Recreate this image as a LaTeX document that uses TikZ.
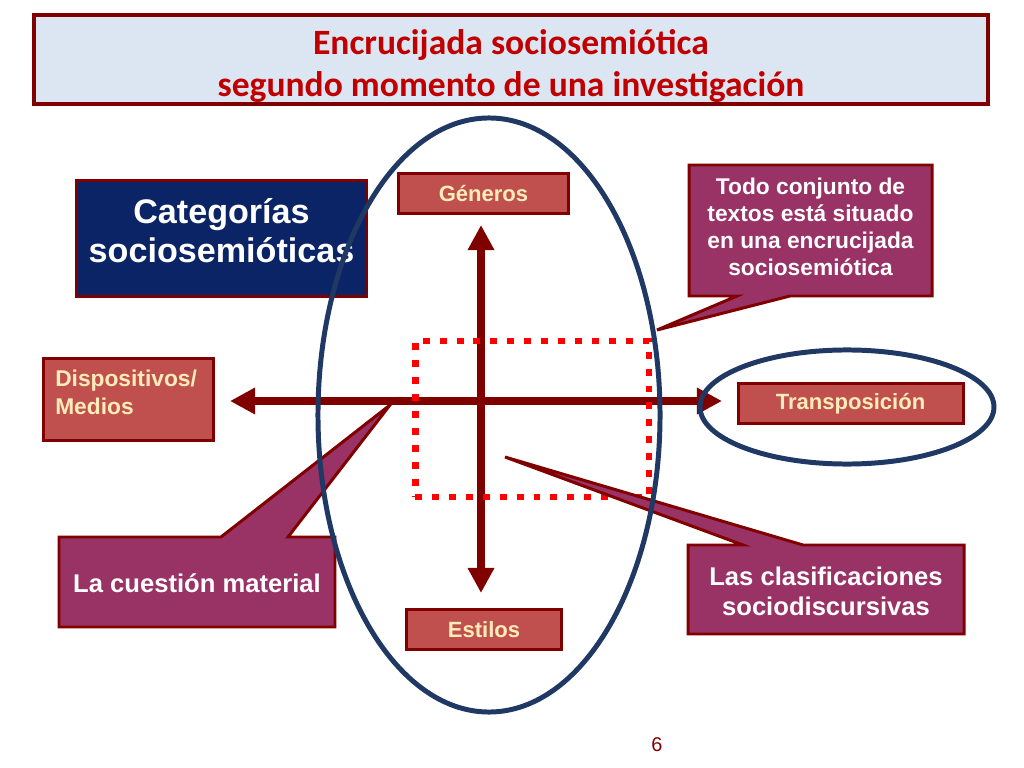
\documentclass[tikz,border=0pt]{standalone}
\usepackage{fontspec}
\setmainfont{Liberation Sans}
\newfontfamily\titlefont{Carlito}
\usetikzlibrary{arrows.meta,shapes.geometric}
\definecolor{dred}{RGB}{128,0,0}
\definecolor{titlered}{RGB}{192,0,0}
\definecolor{titlefill}{RGB}{220,230,242}
\definecolor{navybox}{RGB}{10,36,102}
\definecolor{salmon}{RGB}{192,80,77}
\definecolor{cream}{RGB}{255,236,185}
\definecolor{purp}{RGB}{153,51,102}
\definecolor{ellcol}{RGB}{31,56,100}
\definecolor{dotred}{RGB}{255,0,0}
\begin{document}
\begin{tikzpicture}[x=0.703125pt,y=-0.703125pt,
  smallbox/.style={draw=dred,fill=salmon,line width=2.1pt,inner sep=0pt,
    minimum height=28.8pt,text=cream,font=\fontsize{15.5}{19.7}\selectfont\bfseries},
  calloutshape/.style={draw=dred,fill=purp,line width=2.1pt,line join=miter},
  callouttext/.style={text=white,align=center,inner sep=0pt},
  axis/.style={draw=dred,line width=5.6pt,
    {Triangle[length=17.6pt,width=17.6pt]}-{Triangle[length=17.6pt,width=17.6pt]}},
  ring/.style={draw=ellcol,line width=3.5pt,ellipse,inner sep=0pt},
  dotbox/.style={draw=dotred,line width=4.9pt,dash pattern=on 4.9pt off 7pt,inner sep=0pt}]
\useasboundingbox (0,0) rectangle (1024,768);
\fill[white] (0,0) rectangle (1024,768);

% title
\node[draw=dred,fill=titlefill,line width=2.8pt,minimum width=670.8pt,minimum height=62.6pt,inner sep=0pt] (titlebox) at (511,59.5) {};
\node[text=titlered,align=center,inner sep=0pt,font=\titlefont\bfseries\fontsize{25}{29.5}\selectfont] (titletext) at (511,66) {Encrucijada sociosemiótica\\segundo momento de una investigación};

% categorias
\node[draw=dred,fill=navybox,line width=2.1pt,minimum width=204.6pt,minimum height=80.9pt,inner sep=0pt] (catbox) at (221.5,238.5) {};
\node[text=white,align=center,inner sep=0pt,font=\fontsize{24}{27.4}\selectfont\bfseries] (cattext) at (221.5,231) {Categorías\\sociosemióticas};

% small boxes
\node[smallbox,minimum width=120.2pt] (gen) at (483.5,193.5) {Géneros};
\node[smallbox,minimum width=108.3pt] (est) at (484,629.5) {Estilos};
\node[smallbox,minimum width=158.2pt] (trans) at (850.5,403.5) {Transposición};
\node[smallbox,minimum width=120.2pt,minimum height=57pt] (disp) at (128.5,399.5) {};
\node[anchor=north west,inner sep=0pt,align=left,text=cream,font=\fontsize{16}{19.7}\selectfont\bfseries] (disptext) at (55,370) {Dispositivos/\\Medios};

% axes
\coordinate (vtop) at (481,225);
\coordinate (vbot) at (481,593);
\coordinate (hleft) at (230,401);
\coordinate (hright) at (722,401);
\draw[axis] (vbot) -- (vtop);
\draw[axis] (hleft) -- (hright);

% dotted square
\node[dotbox,minimum width=164.5pt,minimum height=109.7pt] (dots) at (532,419) {};

% callouts
\path[calloutshape] (689,165) -- (932,165) -- (932,296) -- (790,296) -- (657,330) -- (737,296) -- (689,296) -- cycle;
\node[callouttext,font=\fontsize{16}{19}\selectfont\bfseries] (todo) at (810.5,227) {Todo conjunto de\\textos está situado\\en una encrucijada\\sociosemiótica};

\path[calloutshape] (59,537) -- (221,537) -- (390,405) -- (288,537) -- (335,537) -- (335,627) -- (59,627) -- cycle;
\node[callouttext,font=\fontsize{18}{21}\selectfont\bfseries] (cuest) at (197,583) {La cuestión material};

\path[calloutshape] (688,545) -- (743,545) -- (505,457) -- (803,545) -- (964,545) -- (964,634) -- (688,634) -- cycle;
\node[callouttext,font=\fontsize{18}{21}\selectfont\bfseries] (clasif) at (826,591) {Las clasificaciones\\sociodiscursivas};

% ellipses
\node[ring,minimum width=240.5pt,minimum height=417.7pt] (bigring) at (489,415) {};
\node[ring,minimum width=206.7pt,minimum height=80.2pt] (smallring) at (847,407) {};

% page number
\node[text=dred,inner sep=0pt,font=\fontsize{14}{16}\selectfont] (page) at (657,745) {6};
\end{tikzpicture}
\end{document}
